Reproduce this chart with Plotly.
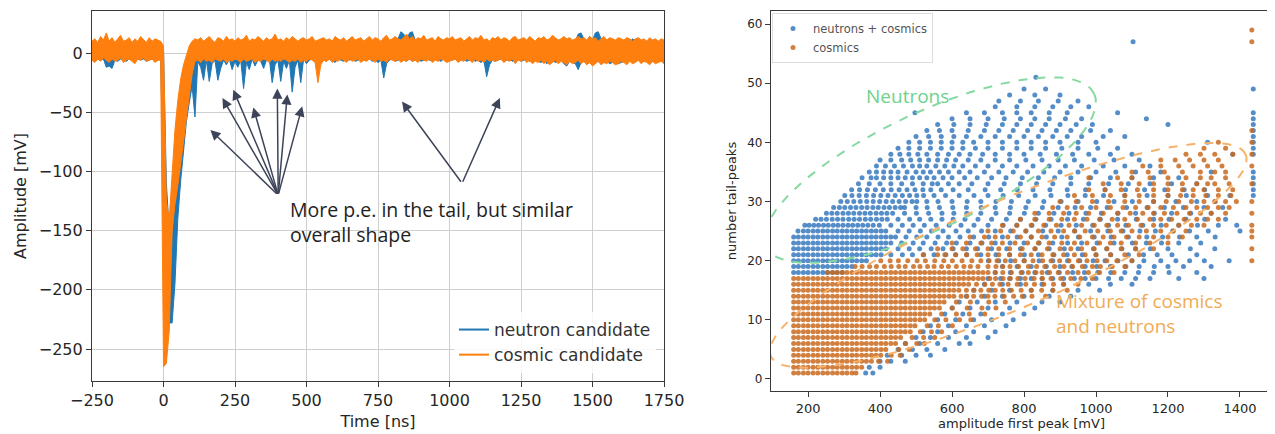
import numpy as np
import plotly.graph_objects as go

# ---------------- LEFT PANEL DATA: waveforms, drawn as min/max envelope per 10 ns bin ----------------
bin_start_ns = -250
bin_width_ns = 10

cosmic_hi = [
    10, 12, 9, 14, 11, 17, 10, 13, 9, 12, 15, 10, 11, 13, 9, 12, 10, 14, 11, 9, 13, 10, 12, 11, 10,
    6, -125, -140, -100, -65, -40, -22, -10, -2, 6, 10,
    12, 11, 13, 10, 12, 14, 11, 9, 13, 12, 10, 14, 11, 12, 10,
    13, 11, 12, 15, 10, 12, 11, 14, 12, 10, 13, 11, 12, 16, 11,
    12, 10, 13, 11, 14, 12, 10, 12, 13, 11, 12, 14, 10, 11, 12,
    13, 11, 12, 10, 14, 12, 11, 13, 10, 12, 14, 11, 12, 13, 10,
    12, 14, 11, 13, 12, 10, 13, 15, 11, 12, 14, 12, 11, 13, 16,
    12, 14, 11, 13, 12, 15, 11, 12, 13, 10, 14, 12, 11, 13, 12,
    14, 11, 12, 13, 10, 12, 14, 11, 13, 12, 15, 11, 12, 10, 13,
    12, 14, 11, 13, 12, 10, 13, 14, 11, 12, 13, 11, 14, 12, 10,
    13, 12, 14, 11, 12, 15, 13, 11, 12, 14, 12, 13, 11, 12, 14,
    12, 13, 11, 14, 12, 13, 10, 12, 14, 11, 13, 12, 11, 13, 12,
    11, 13, 12, 10, 12, 13, 11, 12, 10, 13, 11, 12, 10, 12, 11,
]
cosmic_lo = [
    -6, -8, -5, -7, -4, -6, -8, -5, -7, -6, -4, -8, -6, -5, -7, -9, -5, -6, -4, -7, -6, -5, -8, -6, -6,
    -265, -262, -235, -150, -128, -112, -95, -75, -55, -38, -18,
    -7, -6, -8, -5, -7, -6, -8, -5, -6, -7, -5, -8, -6, -7, -5,
    -6, -8, -5, -7, -6, -5, -8, -6, -7, -5, -6, -8, -5, -7, -6,
    -7, -5, -6, -8, -6, -7, -5, -8, -6, -7, -5, -6, -8, -25, -10,
    -6, -7, -5, -8, -6, -7, -5, -6, -8, -5, -7, -6, -5, -8, -6,
    -7, -5, -6, -8, -5, -7, -6, -8, -5, -6, -7, -5, -8, -6, -7,
    -5, -7, -6, -8, -5, -6, -7, -5, -8, -6, -7, -5, -6, -8, -7,
    -6, -5, -8, -6, -7, -5, -6, -8, -5, -7, -6, -8, -5, -7, -6,
    -7, -6, -5, -8, -6, -7, -5, -9, -6, -7, -5, -8, -6, -9, -7,
    -8, -6, -9, -7, -10, -8, -6, -9, -7, -8, -10, -7, -9, -8, -6,
    -9, -7, -10, -8, -11, -9, -7, -10, -8, -9, -7, -8, -10, -9, -7,
    -8, -10, -7, -9, -8, -6, -9, -7, -8, -10, -7, -9, -8, -7, -9,
]
neutron_hi = [
    8, 10, 7, 11, 9, 12, 8, 10, 7, 9, 12, 8, 9, 11, 7, 10, 8, 11, 9, 7, 10, 8, 9, 10, 8,
    4, -110, -150, -165, -110, -70, -45, -30, -18, -8, 0,
    6, 9, 7, 10, 8, 6, 9, 7, 10, 8, 7, 9, 6, 8, 10,
    8, 7, 9, 6, 10, 8, 7, 9, 6, 8, 10, 7, 9, 8, 6,
    9, 7, 10, 8, 6, 9, 7, 8, 10, 6, 9, 8, 7, 10, 8,
    7, 9, 8, 10, 6, 9, 7, 8, 10, 9, 7, 8, 6, 9, 10,
    8, 7, 10, 9, 6, 8, 10, 7, 9, 8, 11, 12, 18, 16, 10,
    17, 18, 11, 9, 8, 10, 7, 9, 11, 8, 10, 9, 7, 10, 8,
    9, 10, 8, 11, 7, 9, 10, 8, 11, 9, 7, 10, 8, 9, 11,
    8, 10, 9, 7, 11, 9, 8, 10, 7, 9, 11, 8, 10, 9, 7,
    10, 8, 11, 9, 7, 10, 8, 11, 9, 10, 8, 12, 9, 10, 16,
    17, 12, 10, 14, 11, 17, 18, 12, 10, 11, 9, 12, 10, 11, 9,
    10, 11, 9, 12, 10, 8, 11, 9, 10, 8, 11, 9, 10, 8, 9,
]
neutron_lo = [
    -6, -7, -5, -6, -5, -12, -11, -13, -6, -7, -5, -6, -7, -5, -6, -7, -5, -6, -5, -7, -6, -5, -7, -6, -5,
    -120, -215, -228, -228, -195, -140, -108, -80, -58, -42, -28,
    -54, -7, -12, -23, -6, -24, -9, -6, -23, -13, -6, -10, -5, -14, -7,
    -12, -6, -30, -8, -14, -5, -11, -6, -7, -13, -6, -5, -25, -10, -6,
    -24, -7, -13, -6, -33, -12, -6, -25, -5, -9, -6, -5, -7, -6, -5,
    -6, -7, -5, -6, -8, -5, -6, -7, -5, -6, -5, -7, -6, -5, -6,
    -6, -5, -7, -6, -8, -6, -21, -9, -6, -5, -7, -6, -5, -6, -7,
    -5, -7, -6, -5, -7, -6, -5, -6, -7, -5, -6, -7, -5, -6, -5,
    -6, -5, -7, -6, -5, -7, -6, -5, -7, -6, -8, -6, -20, -10, -6,
    -7, -6, -5, -7, -6, -5, -7, -6, -5, -7, -6, -5, -7, -6, -5,
    -7, -8, -6, -9, -7, -6, -8, -7, -6, -9, -11, -7, -8, -9, -14,
    -8, -7, -9, -8, -10, -8, -7, -9, -8, -7, -9, -8, -7, -9, -8,
    -7, -9, -6, -8, -7, -6, -8, -7, -6, -9, -7, -8, -7, -6, -8,
]

waveform_names = ["neutron candidate", "cosmic candidate"]
time_ticks = [-250, 0, 250, 500, 750, 1000, 1250, 1500, 1750]
amp_ticks = [0, -50, -100, -150, -200, -250]

# annotation arrows (tail -> heads), in data units
arrow_tail_1 = (401, -120)
arrow_heads_1 = [(164, -65), (206, -38), (244, -31), (314, -46), (398, -30), (433, -35), (485, -45)]
arrow_tail_2 = (1044, -110)
arrow_heads_2 = [(834, -41), (1176, -38)]

# ---------------- RIGHT PANEL DATA: events on integer tail-peak levels ----------------
neu_levels = list(range(1, 50)) + [51, 57]
neu_rows = [
    [360, 380],
    [370, 400],
    [400, 430, 470],
    [420, 460, 500, 540],
    [450, 490, 530, 580],
    [470, 510, 560, 620, 650],
    [500, 540, 590, 640, 700],
    [520, 560, 610, 660, 720],
    [540, 590, 640, 690, 750],
    [560, 610, 660, 710, 770],
    [580, 630, 680, 740, 800],
    [600, 650, 700, 760, 830],
    [620, 670, 720, 780, 850, 900],
    [640, 690, 740, 800, 870, 930],
    [660, 710, 760, 820, 880, 950, 1010],
    [690, 740, 790, 850, 910, 980, 1040, 1100],
    [700, 735, 760, 790, 820, 850, 880, 910, 940, 970, 1000, 1035, 1070, 1110, 1150, 1230, 1300],
    [160, 173, 187, 200, 214, 227, 241, 254, 268, 281, 295,
     720, 762, 795, 830, 865, 898, 935, 968, 1005, 1041, 1080, 1118, 1160, 1203, 1280],
    [160, 173, 187, 200, 214, 227, 241, 254, 268, 281, 295, 308, 322,
     740, 781, 820, 862, 900, 933, 970, 1002, 1040, 1083, 1120, 1162, 1200, 1243, 1320],
    [160, 173, 187, 200, 214, 227, 241, 254, 268, 281, 295, 308, 322, 335, 349, 362,
     701, 730, 763, 800, 842, 880, 921, 955, 992, 1025, 1061, 1100, 1133, 1180, 1222, 1260, 1301, 1370],
    [160, 173, 187, 200, 214, 227, 241, 254, 268, 281, 295, 308, 322, 335, 349, 362, 376, 389, 403,
     430, 462, 490, 521, 550, 583, 610, 641, 680, 722, 760, 801, 840, 883, 920, 962, 1000, 1041, 1090, 1132,
     1170, 1211, 1280],
    [160, 173, 187, 200, 214, 227, 241, 254, 268, 281, 295, 308, 322, 335, 349, 362, 376, 389, 403, 416,
     450, 481, 510, 542, 575, 603, 640, 671, 710, 752, 790, 831, 870, 912, 950, 993, 1030, 1072, 1110, 1151,
     1200, 1262, 1330],
    [160, 173, 187, 200, 214, 227, 241, 254, 268, 281, 295, 308, 322, 335, 349, 362, 376, 389, 403, 416, 430,
     460, 492, 520, 553, 585, 612, 650, 683, 720, 761, 800, 842, 880, 921, 960, 1003, 1050, 1101, 1140, 1182,
     1230, 1291],
    [160, 173, 187, 200, 214, 227, 241, 254, 268, 281, 295, 308, 322, 335, 349, 362, 376, 389, 403, 416, 430, 443,
     472, 502, 530, 561, 590, 622, 660, 702, 740, 781, 820, 862, 905, 951, 995, 1042, 1090, 1141, 1185, 1232,
     1280, 1331],
    [172, 187, 200, 214, 227, 241, 254, 268, 281, 295, 308, 322, 335, 349, 362, 376, 389, 403, 416,
     450, 481, 512, 543, 575, 611, 645, 682, 720, 763, 805, 852, 895, 941, 985, 1033, 1075, 1122, 1165, 1213,
     1260, 1312, 1400],
    [191, 203, 216, 229, 243, 256, 270, 283, 297, 311, 324, 338, 352, 366, 381, 398,
     430, 462, 492, 523, 556, 592, 625, 661, 700, 742, 780, 822, 860, 903, 945, 991, 1035, 1083, 1130, 1181,
     1230, 1282, 1340, 1391],
    [221, 236, 251, 267, 282, 297, 313, 328, 343, 359, 374, 390, 405, 420,
     450, 482, 510, 541, 572, 603, 636, 672, 710, 751, 790, 833, 875, 921, 965, 1012, 1060, 1112, 1160, 1203,
     1250, 1302, 1360],
    [251, 266, 281, 297, 312, 327, 343, 358, 373, 389, 404, 419, 435,
     468, 501, 535, 572, 605, 641, 680, 722, 760, 801, 840, 883, 925, 972, 1015, 1061, 1110, 1162, 1210, 1263, 1320],
    [271, 287, 302, 318, 333, 349, 364, 380, 395, 411, 426, 442, 457, 468,
     500, 531, 565, 602, 640, 681, 720, 762, 805, 851, 895, 942, 985, 1031, 1085, 1142, 1190, 1243, 1300, 1352],
    [291, 309, 327, 345, 363, 381, 399, 417, 435, 453, 471, 489, 502,
     530, 561, 600, 642, 680, 722, 765, 812, 855, 903, 950, 1002, 1050, 1101, 1160, 1222, 1280, 1331],
    [302, 322, 342, 362, 382, 402, 422, 442, 462, 482, 502, 521,
     550, 582, 620, 661, 700, 742, 785, 831, 875, 922, 970, 1021, 1080, 1142, 1200, 1251, 1310, 1372],
    [321, 343, 365, 387, 409, 431, 453, 475, 497, 519, 541,
     570, 603, 645, 692, 735, 781, 825, 872, 920, 971, 1025, 1082, 1135, 1191, 1245, 1302],
    [340, 370, 400, 430, 460, 490, 520, 545, 560, 590, 620, 655, 700, 745, 790, 835, 880, 930, 980, 1035, 1090,
     1150, 1210, 1280],
    [350, 375, 390, 410, 430, 450, 470, 490, 510, 530, 550, 575, 600, 635, 670, 710, 750, 795, 840, 885, 930,
     985, 1040, 1100, 1160, 1230],
    [370, 390, 410, 430, 450, 475, 500, 520, 540, 565, 590, 620, 650, 690, 730, 770, 810, 855, 900, 950, 1000,
     1055, 1110, 1180, 1320],
    [390, 415, 440, 465, 490, 510, 530, 555, 580, 605, 630, 665, 700, 740, 780, 825, 870, 915, 960, 1020, 1080, 1150],
    [400, 430, 460, 485, 510, 535, 560, 585, 610, 645, 680, 720, 760, 805, 850, 895, 940, 995, 1050, 1120],
    [430, 455, 480, 505, 530, 560, 590, 620, 650, 685, 720, 760, 800, 845, 890, 935, 980, 1040, 1100, 1380],
    [450, 480, 510, 540, 570, 600, 630, 665, 700, 740, 780, 820, 860, 905, 950, 1005, 1060],
    [480, 510, 540, 570, 600, 630, 660, 700, 740, 780, 820, 860, 900, 950, 1000, 1310],
    [500, 535, 570, 605, 640, 680, 720, 760, 800, 840, 880, 920, 960, 1020, 1080],
    [530, 565, 600, 645, 690, 730, 770, 810, 850, 890, 930, 985, 1040],
    [560, 605, 650, 695, 740, 780, 820, 860, 900, 945, 990, 1200],
    [600, 650, 700, 745, 790, 830, 870, 915, 960, 1140],
    [497, 640, 690, 740, 780, 820, 870, 920, 1060],
    [720, 780, 830, 880, 930, 980],
    [730, 790, 840, 895, 950],
    [760, 830, 900],
    [800, 860],
    [833],
    [1103],
]
neu_edge_amp = 1437
neu_edge_levels = [31, 32, 33, 34, 35, 38, 39, 40, 41, 42, 43, 44, 45, 49]

cos_levels = list(range(1, 41))
cos_rows = [
    [160, 173, 187, 200, 214, 227, 241, 254, 268, 281, 295, 308, 322, 333],
    [160, 173, 187, 200, 214, 227, 241, 254, 268, 281, 295, 308, 322, 335, 349],
    [160, 173, 187, 200, 214, 227, 241, 254, 268, 281, 295, 308, 322, 335, 349, 362, 376, 396, 421],
    [160, 173, 187, 200, 214, 227, 241, 254, 268, 281, 295, 308, 322, 335, 349, 362, 376, 389, 402, 431, 456],
    [160, 173, 187, 200, 214, 227, 241, 254, 268, 281, 295, 308, 322, 335, 349, 362, 376, 389, 403, 416, 452, 481],
    [160, 173, 187, 200, 214, 227, 241, 254, 268, 281, 295, 308, 322, 335, 349, 362, 376, 389, 403, 416, 430, 443,
     471, 502, 523],
    [160, 173, 187, 200, 214, 227, 241, 254, 268, 281, 295, 308, 322, 335, 349, 362, 376, 389, 403, 416, 430, 443,
     457, 489, 521, 552],
    [160, 173, 187, 200, 214, 227, 241, 254, 268, 281, 295, 308, 322, 335, 349, 362, 376, 389, 403, 416, 430, 443,
     457, 470, 484, 512, 543, 571],
    [160, 173, 187, 200, 214, 227, 241, 254, 268, 281, 295, 308, 322, 335, 349, 362, 376, 389, 403, 416, 430, 443,
     457, 470, 484, 497, 531, 562, 601],
    [160, 173, 187, 200, 214, 227, 241, 254, 268, 281, 295, 308, 322, 335, 349, 362, 376, 389, 403, 416, 430, 443,
     457, 470, 484, 497, 511, 524, 552, 583, 621, 652],
    [160, 173, 187, 200, 214, 227, 241, 254, 268, 281, 295, 308, 322, 335, 349, 362, 376, 389, 403, 416, 430, 443,
     457, 470, 484, 497, 511, 524, 538, 571, 612, 648, 691],
    [160, 173, 187, 200, 214, 227, 241, 254, 268, 281, 295, 308, 322, 335, 349, 362, 376, 389, 403, 416, 430, 443,
     457, 470, 484, 497, 511, 524, 538, 551, 565, 601, 642, 683, 722],
    [160, 173, 187, 200, 214, 227, 241, 254, 268, 281, 295, 308, 322, 335, 349, 362, 376, 389, 403, 416, 430, 443,
     457, 470, 484, 497, 511, 524, 538, 551, 565, 578, 612, 651, 702, 748],
    [160, 173, 187, 200, 214, 227, 241, 254, 268, 281, 295, 308, 322, 335, 349, 362, 376, 389, 403, 416, 430, 443,
     457, 470, 484, 497, 511, 524, 538, 551, 565, 578, 592, 605, 625, 641, 660, 682, 700, 719, 745, 771, 795,
     822, 860],
    [160, 173, 187, 200, 214, 227, 241, 254, 268, 281, 295, 308, 322, 335, 349, 362, 376, 389, 403, 416, 430, 443,
     457, 470, 484, 497, 511, 524, 538, 551, 565, 578, 592, 605, 619, 640, 661, 680, 702, 720, 741, 765, 792,
     820, 849, 880, 920],
    [160, 173, 187, 200, 214, 227, 241, 254, 268, 281, 295, 308, 322, 335, 349, 362, 376, 389, 403, 416, 430, 443,
     457, 470, 484, 497, 511, 524, 538, 551, 565, 578, 592, 605, 619, 632, 646, 668, 691, 712, 733, 756, 781,
     805, 829, 855, 882, 910, 950],
    [160, 173, 187, 200, 214, 227, 241, 254, 268, 281, 295, 308, 322, 335, 349, 362, 376, 389, 403, 416, 430, 443,
     457, 470, 484, 497, 511, 524, 538, 551, 565, 578, 592, 605, 619, 632, 646, 659, 673, 686, 705, 721, 742,
     762, 783, 803, 828, 851, 875, 902, 930, 958, 990],
    [254, 268, 281, 295, 308, 322, 335, 349, 362, 376, 389, 403, 416, 430, 443, 457, 470, 484, 497, 511, 524, 538,
     551, 565, 578, 592, 605, 619, 632, 646, 659, 673, 686, 700, 720, 741, 765, 792, 812, 833, 850, 871, 895,
     921, 950, 979, 1010, 1050],
    [331, 350, 371, 390, 412, 431, 452, 470, 493, 511, 532, 550, 571, 590, 612, 633, 651, 672,
     700, 722, 741, 761, 785, 812, 835, 858, 885, 911, 935, 962, 990, 1012, 1045, 1080],
    [402, 428, 451, 477, 503, 526, 552, 577, 601, 628, 655, 680, 703, 725, 748, 775, 801, 825, 852, 875, 899,
     925, 951, 975, 1003, 1030, 1058, 1100],
    [520, 560, 580, 610, 640, 670, 700, 730, 760, 790, 820, 850, 880, 910, 940, 970, 1000, 1040, 1080, 1120],
    [560, 600, 630, 665, 700, 730, 760, 795, 830, 865, 900, 930, 960, 995, 1030, 1070, 1110, 1160],
    [600, 640, 680, 710, 740, 775, 810, 840, 870, 905, 940, 975, 1010, 1040, 1070, 1110, 1150, 1200],
    [650, 690, 720, 755, 790, 820, 850, 885, 920, 955, 990, 1020, 1050, 1085, 1120, 1160, 1200, 1240],
    [700, 735, 770, 805, 840, 875, 910, 940, 970, 1005, 1040, 1070, 1100, 1140, 1180, 1215, 1250],
    [740, 780, 820, 855, 890, 925, 960, 995, 1030, 1060, 1090, 1125, 1160, 1195, 1230, 1265, 1300],
    [790, 830, 870, 905, 940, 975, 1010, 1045, 1080, 1115, 1150, 1180, 1210, 1245, 1280, 1310, 1340],
    [830, 870, 910, 945, 980, 1020, 1060, 1095, 1130, 1160, 1190, 1225, 1260, 1290, 1320, 1360],
    [880, 920, 960, 1000, 1040, 1075, 1110, 1145, 1180, 1215, 1250, 1280, 1310, 1340, 1370],
    [900, 945, 990, 1035, 1080, 1120, 1160, 1195, 1230, 1265, 1300, 1330, 1360, 1390],
    [940, 990, 1040, 1080, 1120, 1160, 1200, 1235, 1270, 1305, 1340, 1375],
    [980, 1025, 1070, 1115, 1160, 1200, 1240, 1270, 1300, 1340, 1380],
    [1020, 1070, 1120, 1160, 1200, 1240, 1280, 1310, 1330, 1370],
    [980, 1060, 1100, 1150, 1200, 1250, 1290, 1320, 1360],
    [1100, 1145, 1190, 1240, 1290, 1330, 1360],
    [1130, 1180, 1230, 1270, 1310, 1350],
    [1180, 1220, 1260, 1300, 1340],
    [1250, 1290, 1330, 1380],
    [1300, 1360],
    [1340],
]
cos_edge_amp = 1433
cos_edge_levels = [20, 22, 24, 25, 26, 28, 30, 33, 36, 38, 40, 42, 57, 59]

scatter_names = ["neutrons + cosmics", "cosmics"]
amp_axis_ticks = [200, 400, 600, 800, 1000, 1200, 1400]
peaks_axis_ticks = [0, 10, 20, 30, 40, 50, 60]

# ---------------- page geometry (the page body adds an 8 px margin) ----------------
OFF = 8
FIG_W = 1275 - OFF
FIG_H = 434 - OFF


def px_x(p):
    return (p - OFF) / FIG_W


def px_y(p):
    return 1 - (p - OFF) / FIG_H


BLUE = "#1f77b4"
ORANGE = "#ff7f0e"
fig = go.Figure()


def band(hi, lo, color, name):
    t = [bin_start_ns + bin_width_ns * k for k in range(len(hi))]
    fig.add_trace(go.Scatter(x=t, y=lo, mode="lines", line=dict(color=color, width=1),
                             showlegend=False, hoverinfo="skip", xaxis="x", yaxis="y"))
    fig.add_trace(go.Scatter(x=t, y=hi, mode="lines", line=dict(color=color, width=1),
                             fill="tonexty", fillcolor=color, showlegend=False, name=name,
                             xaxis="x", yaxis="y"))


band(neutron_hi, neutron_lo, BLUE, waveform_names[0])
band(cosmic_hi, cosmic_lo, ORANGE, waveform_names[1])
for nm, col in zip(waveform_names, (BLUE, ORANGE)):
    fig.add_trace(go.Scatter(x=[None], y=[None], mode="lines", name=nm, line=dict(color=col, width=2),
                             xaxis="x", yaxis="y", legend="legend"))


def flatten(levels, rows, edge_amp, edge_levels):
    xs, ys = [], []
    for lv, row in zip(levels, rows):
        for v in row:
            xs.append(v)
            ys.append(lv)
    for lv in edge_levels:
        xs.append(edge_amp)
        ys.append(lv)
    return xs, ys


nx, ny = flatten(neu_levels, neu_rows, neu_edge_amp, neu_edge_levels)
cx, cy = flatten(cos_levels, cos_rows, cos_edge_amp, cos_edge_levels)
fig.add_trace(go.Scatter(x=nx, y=ny, mode="markers", name=scatter_names[0],
                         marker=dict(color="#2b70bc", size=5, opacity=0.8, line=dict(width=0)),
                         xaxis="x2", yaxis="y2", legend="legend2"))
fig.add_trace(go.Scatter(x=cx, y=cy, mode="markers", name=scatter_names[1],
                         marker=dict(color="#c96a1e", size=5, opacity=0.85, line=dict(width=0)),
                         xaxis="x2", yaxis="y2", legend="legend2"))

X1_DOM = [px_x(92), px_x(664)]
Y1_DOM = [px_y(381), px_y(11)]
X2_RANGE = [97, 1489]
Y2_RANGE = [-2.03, 62.2]
X2_DOM = [px_x(771), px_x(1272)]
Y2_DOM = [px_y(391), px_y(11)]
W2 = (X2_DOM[1] - X2_DOM[0]) * FIG_W
H2 = (Y2_DOM[1] - Y2_DOM[0]) * FIG_H


def ellipse(cxd, cyd, a_px, b_px, ang_deg):
    sx = W2 / (X2_RANGE[1] - X2_RANGE[0])
    sy = H2 / (Y2_RANGE[1] - Y2_RANGE[0])
    t = np.linspace(0, 2 * np.pi, 240)
    th = np.radians(ang_deg)
    dx = a_px * np.cos(t) * np.cos(th) - b_px * np.sin(t) * np.sin(th)
    dy = a_px * np.cos(t) * np.sin(th) + b_px * np.sin(t) * np.cos(th)
    return cxd + dx / sx, cyd + dy / sy


ex, ey = ellipse(539, 35.3, 181, 58, 25)
fig.add_trace(go.Scatter(x=ex, y=ey, mode="lines", showlegend=False, hoverinfo="skip",
                         line=dict(color="#86d9a0", width=2, dash="dash"), xaxis="x2", yaxis="y2"))
ox, oy = ellipse(756, 20.9, 258, 54, 23)
fig.add_trace(go.Scatter(x=ox, y=oy, mode="lines", showlegend=False, hoverinfo="skip",
                         line=dict(color="#f6b26b", width=2, dash="dash"), xaxis="x2", yaxis="y2"))

annotations = []
ARROW = "#3d4459"
for tail, heads in ((arrow_tail_1, arrow_heads_1), (arrow_tail_2, arrow_heads_2)):
    for hx, hy in heads:
        annotations.append(dict(x=hx, y=hy, ax=tail[0], ay=tail[1], xref="x", yref="y",
                                axref="x", ayref="y", text="", showarrow=True, arrowhead=2,
                                arrowsize=1.35, arrowwidth=1.5, arrowcolor=ARROW))
annotations.append(dict(x=px_x(288), y=px_y(194), xref="paper", yref="paper",
                        xanchor="left", yanchor="top", align="left", showarrow=False,
                        text="More p.e. in the tail, but similar<br>overall shape",
                        font=dict(family="Open Sans", size=19.5, color="#222222")))
annotations.append(dict(x=475, y=47.8, xref="x2", yref="y2", showarrow=False, text="Neutrons",
                        font=dict(family="Open Sans", size=19, color="#6fd28d")))
annotations.append(dict(x=884, y=11, xref="x2", yref="y2", xanchor="left", align="left",
                        showarrow=False, text="Mixture of cosmics<br>and neutrons",
                        font=dict(family="Open Sans", size=19, color="#f0ab55")))

axis_common = dict(showline=True, mirror=True, linecolor="#3a3a3a", linewidth=1.2, ticks="outside",
                   ticklen=5, tickcolor="#3a3a3a", zeroline=False, automargin=False)

fig.update_layout(
    width=FIG_W, height=FIG_H, margin=dict(l=0, r=0, t=0, b=0, autoexpand=False),
    paper_bgcolor="white", plot_bgcolor="white",
    font=dict(family="DejaVu Sans", color="#262626"),
    xaxis=dict(domain=X1_DOM, range=[-250, 1750], tickvals=time_ticks,
               showgrid=True, gridcolor="#cfcfcf", tickfont=dict(size=16),
               title=dict(text="Time [ns]", font=dict(size=16), standoff=6), anchor="y", **axis_common),
    yaxis=dict(domain=Y1_DOM, range=[-277, 35.5], tickvals=amp_ticks,
               showgrid=True, gridcolor="#cfcfcf", tickfont=dict(size=16),
               title=dict(text="Amplitude [mV]", font=dict(size=16), standoff=8), anchor="x", **axis_common),
    xaxis2=dict(domain=X2_DOM, range=X2_RANGE, tickvals=amp_axis_ticks, showgrid=False,
                tickfont=dict(size=13), title=dict(text="amplitude first peak [mV]", font=dict(size=13), standoff=3),
                anchor="y2", **axis_common),
    yaxis2=dict(domain=Y2_DOM, range=Y2_RANGE, tickvals=peaks_axis_ticks, showgrid=False,
                tickfont=dict(size=12), title=dict(text="number tail-peaks", font=dict(size=13), standoff=7),
                anchor="x2", **axis_common),
    legend=dict(x=px_x(656), y=px_y(373), xanchor="right", yanchor="bottom", traceorder="normal",
                bgcolor="rgba(255,255,255,0.85)", font=dict(size=17, color="#333333"),
                tracegroupgap=0),
    legend2=dict(x=px_x(772), y=px_y(13), xanchor="left", yanchor="top",
                 bgcolor="rgba(255,255,255,0.9)", bordercolor="#dddddd", borderwidth=1,
                 font=dict(size=11.5, color="#555555"), itemsizing="trace"),
    annotations=annotations,
    showlegend=True,
)

fig.write_html("out.html")
